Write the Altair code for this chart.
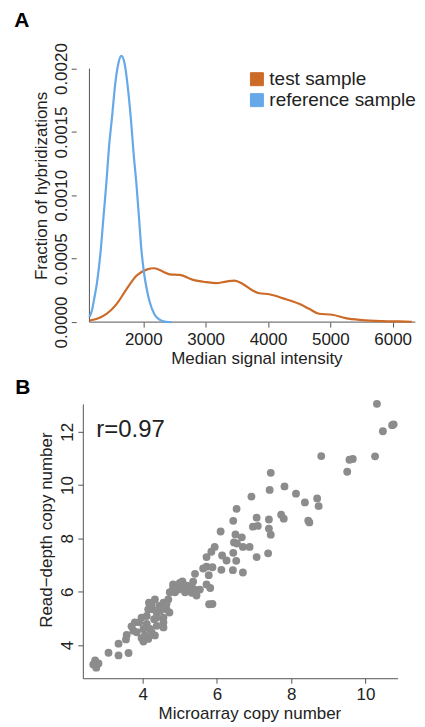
import altair as alt
import pandas as pd

FONT = "Liberation Sans"
ORANGE = "#CC6A28"
BLUE = "#66A9E8"
AXIS_COLOR = "#555555"
TEXT_COLOR = "#222222"

# ---------------- Panel A: density curves ----------------
test_x = [1138, 1300, 1415, 1574, 1734, 1894, 2053, 2175, 2319, 2426, 2585, 2798,
          3011, 3170, 3330, 3463, 3596, 3755, 3862, 4021, 4234, 4500, 4660, 4819,
          5032, 5245, 5511, 5830, 6096, 6309]
test_y = [0.000013, 0.000035, 0.000066, 0.000144, 0.000262, 0.000367, 0.000414,
          0.000425, 0.000398, 0.000377, 0.000372, 0.000333, 0.000315, 0.000307,
          0.000320, 0.000328, 0.000301, 0.000249, 0.000228, 0.000220, 0.000189,
          0.000144, 0.000105, 0.000066, 0.000058, 0.000031, 0.000016, 0.000008,
          0.000005, 0.000003]

ref_x = [1136, 1180, 1211, 1260, 1318, 1360, 1408, 1450, 1499, 1550, 1600, 1648,
         1700, 1750, 1798, 1850, 1888, 1930, 1968, 2020, 2060, 2102, 2180, 2260,
         2363, 2450]
ref_y = [0.00004, 0.00010, 0.00018, 0.00032, 0.00057, 0.00082, 0.00110, 0.00138,
         0.00162, 0.00188, 0.00204, 0.00210, 0.00204, 0.00186, 0.00162, 0.00130,
         0.00110, 0.00083, 0.00058, 0.00036, 0.00025, 0.00016, 0.00006, 0.00002,
         0.000003, 0.0]

series_names = ["test sample", "reference sample"]
x_ticks_A = [2000, 3000, 4000, 5000, 6000]
y_ticks_A = [0.0, 0.0005, 0.0010, 0.0015, 0.0020]

# ---------------- Panel B: scatter ----------------
micro = [10.31, 10.76, 10.47, 10.72, 10.26, 9.57, 9.66, 9.51, 8.81, 7.45, 7.42, 7.82,
         6.93, 8.13, 8.70, 8.37, 8.74, 6.53, 7.73, 7.80, 7.40, 7.07, 8.46, 8.49,
         6.44, 6.97, 7.10, 7.40, 7.45, 6.10, 6.50, 6.67, 6.54, 6.46, 6.88, 6.70,
         5.94, 5.85, 6.44, 7.38, 7.07, 5.72, 6.14, 6.26, 6.52, 5.72, 5.88, 5.63,
         6.12, 6.43, 6.70, 5.41, 5.78, 5.36, 5.72, 5.82, 5.79, 5.88, 5.07, 4.82,
         5.19, 5.32, 4.96, 5.54, 4.87, 5.14, 5.32, 5.45, 5.05, 4.69, 4.56, 4.33,
         4.17, 4.45, 4.72, 4.27, 4.38, 4.11, 3.97, 4.56, 4.31, 4.56, 3.79, 4.11,
         3.70, 4.38, 4.56, 4.02, 3.75, 4.24, 3.57, 4.33, 3.97, 4.15, 3.55, 4.02,
         3.35, 3.08, 3.62, 3.35, 2.72, 2.81, 2.75, 2.67, 4.24, 4.15, 4.47, 4.38,
         4.64, 3.91, 4.20, 4.82, 4.73, 5.00, 5.41, 5.23, 4.64, 4.06, 3.84]
readdepth = [13.05, 12.28, 12.02, 12.25, 11.08, 10.95, 10.98, 10.50, 11.09, 10.46,
             9.82, 9.95, 9.57, 9.68, 9.50, 9.35, 9.21, 9.11, 8.89, 8.74, 8.71, 8.78,
             8.67, 8.60, 8.66, 8.44, 8.47, 8.37, 8.14, 8.26, 8.15, 8.04, 7.81, 7.85,
             7.68, 7.68, 7.68, 7.50, 7.46, 7.44, 7.30, 7.30, 7.36, 7.17, 7.16, 6.94,
             6.92, 6.87, 6.82, 6.81, 6.72, 6.67, 6.62, 6.38, 6.27, 6.14, 5.53, 5.54,
             6.39, 6.27, 6.23, 6.20, 6.08, 6.08, 5.98, 5.98, 5.96, 5.86, 6.21, 5.71,
             5.59, 5.71, 5.59, 5.47, 5.22, 5.34, 5.22, 5.09, 5.03, 5.03, 4.97, 4.85,
             4.85, 4.79, 4.70, 4.72, 4.66, 4.60, 4.54, 4.48, 4.38, 4.36, 4.26, 4.23,
             4.21, 4.13, 4.05, 3.71, 3.70, 3.61, 3.42, 3.31, 3.15, 3.27, 5.53, 5.34,
             5.28, 5.03, 5.53, 4.85, 4.60, 6.14, 5.98, 6.33, 6.08, 6.08, 5.34, 4.36,
             4.48]
x_ticks_B = [4, 6, 8, 10]
y_ticks_B = [4, 6, 8, 10, 12]
r_label = ["r=0.97"]

dens = pd.DataFrame({
    "x": test_x + ref_x,
    "y": test_y + ref_y,
    "series": [series_names[0]] * len(test_x) + [series_names[1]] * len(ref_x),
})
scatter = pd.DataFrame({"micro": micro, "rd": readdepth})
annot = pd.DataFrame({"label": r_label})
one_row = pd.DataFrame({"k": [0]})

X_END_A = 6363

color_scale = alt.Scale(domain=series_names, range=[ORANGE, BLUE])

xA = alt.X("x:Q",
           scale=alt.Scale(domain=[1030, X_END_A], nice=False, zero=False),
           axis=alt.Axis(values=x_ticks_A, title="Median signal intensity",
                         domain=False, format="d", labelPadding=4, titlePadding=3,
                         titleX=174))
yA = alt.Y("y:Q",
           scale=alt.Scale(domain=[0, 0.00218], nice=False),
           axis=alt.Axis(values=y_ticks_A, format=".4f", title="Fraction of hybridizations",
                         domain=False, offset=6.6, labelAngle=270, labelAlign="center",
                         labelBaseline="bottom", labelPadding=1, titlePadding=2,
                         titleY=140))

legend_squares = alt.Chart(dens).mark_square(filled=True, opacity=0, stroke="#444444",
                                             strokeWidth=1).encode(
    x=xA, y=yA,
    color=alt.Color("series:N", scale=color_scale,
                    legend=alt.Legend(title=None, orient="none", legendX=165, legendY=24,
                                      symbolType="square", symbolSize=169,
                                      symbolStrokeColor="#444444", symbolStrokeWidth=1,
                                      symbolOpacity=1, labelFontSize=19, labelFont=FONT,
                                      labelColor=TEXT_COLOR, labelOffset=3, rowPadding=1,
                                      padding=0)),
)

curves = alt.Chart(dens).mark_line(strokeWidth=2.2, interpolate="monotone").encode(
    x=xA, y=yA,
    color=alt.Color("series:N", scale=color_scale, legend=None),
    order=alt.Order("x:Q"),
)

y_axis_line = alt.Chart(one_row).mark_rule(color=AXIS_COLOR, strokeWidth=1).encode(
    x=alt.datum(test_x[0] - 2), y=alt.datum(y_ticks_A[0]), y2=alt.datum(y_ticks_A[-1]))
x_axis_line = alt.Chart(one_row).mark_rule(color=AXIS_COLOR, strokeWidth=1).encode(
    y=alt.datum(0), x=alt.datum(test_x[0] - 2), x2=alt.datum(X_END_A))

panelA = alt.layer(legend_squares, y_axis_line, x_axis_line, curves).properties(
    width=333.3, height=277,
    title=alt.TitleParams("A", anchor="start", frame="group", dx=-68.7, fontSize=21,
                          fontWeight="bold", font=FONT, color="#000000",
                          baseline="alphabetic", offset=-5),
)

xB = alt.X("micro:Q", scale=alt.Scale(domain=[2.388, 10.868], nice=False, zero=False),
           axis=alt.Axis(values=x_ticks_B, title="Microarray copy number",
                         labelPadding=3, titlePadding=3, titleX=167))
yB = alt.Y("rd:Q", scale=alt.Scale(domain=[2.754, 13.047], nice=False, zero=False),
           axis=alt.Axis(values=y_ticks_B, title="Read\u2212depth copy number",
                         labelAngle=270, labelAlign="center", labelBaseline="bottom",
                         labelPadding=1, titlePadding=3, titleY=126))

points = alt.Chart(scatter).mark_circle(size=62, color="#8C8C8C", opacity=1).encode(x=xB, y=yB)
rtext = alt.Chart(annot).mark_text(fontSize=24, font=FONT, align="left",
                                   baseline="alphabetic", color=TEXT_COLOR).encode(
    x=alt.datum(2.75), y=alt.datum(11.82), text="label:N")

panelB = alt.layer(points, rtext).properties(
    width=315.6, height=275,
    title=alt.TitleParams("B", anchor="start", frame="group", dx=-67.7, fontSize=21,
                          fontWeight="bold", font=FONT, color="#000000",
                          baseline="alphabetic", offset=-15),
)

chart = alt.vconcat(panelA, panelB, spacing=82, bounds="flush").properties(
    padding={"left": 6, "top": 0, "right": 0, "bottom": 0}
).configure_view(stroke=None).configure_axis(
    grid=False, domainColor=AXIS_COLOR, tickColor=AXIS_COLOR, tickSize=5,
    labelFontSize=17, titleFontSize=17, labelFont=FONT, titleFont=FONT,
    labelColor=TEXT_COLOR, titleColor=TEXT_COLOR, titleFontWeight="normal",
)

chart.save("out.html", embed_options={"renderer": "svg", "actions": False})
